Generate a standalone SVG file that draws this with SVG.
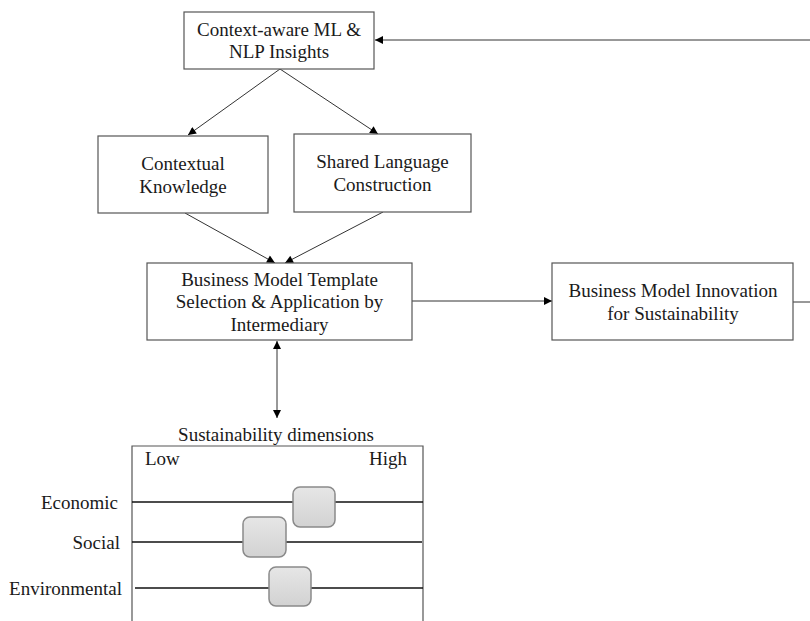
<svg xmlns="http://www.w3.org/2000/svg" width="810" height="621" viewBox="0 0 810 621">
<style>
.box{fill:#fff;stroke:#555;stroke-width:1.2}
.t{font-family:"Liberation Serif","Times New Roman",serif;font-size:19px;fill:#1a1a1a;text-anchor:middle}
.con{stroke:#333;stroke-width:1;fill:none}
.bar{stroke:#111;stroke-width:1.5}
.knob{fill:url(#kg);stroke:#8a8a8a;stroke-width:1.5}
</style>
<defs>
<marker id="ah" viewBox="0 0 10 10" refX="10" refY="5" markerWidth="10" markerHeight="8" markerUnits="userSpaceOnUse" orient="auto-start-reverse">
<path d="M0,0 L10,5 L0,10 z" fill="#000"/>
</marker>
<linearGradient id="kg" x1="0" y1="0" x2="0" y2="1">
<stop offset="0" stop-color="#e6e6e6"/>
<stop offset="1" stop-color="#d2d2d2"/>
</linearGradient>
</defs>
<g id="connectors">
<line class="con" x1="810" y1="40" x2="375" y2="40" marker-end="url(#ah)"/>
<line class="con" x1="280" y1="69" x2="188" y2="135" marker-end="url(#ah)"/>
<line class="con" x1="280" y1="69" x2="378" y2="134" marker-end="url(#ah)"/>
<line class="con" x1="185" y1="213" x2="275" y2="263" marker-end="url(#ah)"/>
<line class="con" x1="383" y1="212" x2="285" y2="263" marker-end="url(#ah)"/>
<line class="con" x1="412" y1="301" x2="552" y2="301" marker-end="url(#ah)"/>
<line class="con" x1="277" y1="341" x2="277" y2="418" marker-start="url(#ah)" marker-end="url(#ah)"/>
<line class="con" x1="793" y1="302" x2="810" y2="302"/>
</g>
<g id="insights">
<rect class="box" x="184" y="12" width="190" height="57"/>
<text class="t" x="279" y="36">Context-aware ML &amp;</text>
<text class="t" x="279" y="58">NLP Insights</text>
</g>
<g id="contextual">
<rect class="box" x="98" y="136" width="170" height="77"/>
<text class="t" x="183" y="170">Contextual</text>
<text class="t" x="183" y="193">Knowledge</text>
</g>
<g id="shared">
<rect class="box" x="294" y="134" width="177" height="78"/>
<text class="t" x="382.5" y="168">Shared Language</text>
<text class="t" x="382.5" y="191">Construction</text>
</g>
<g id="template">
<rect class="box" x="147" y="263" width="265" height="77"/>
<text class="t" x="279.5" y="286">Business Model Template</text>
<text class="t" x="279.5" y="308">Selection &amp; Application by</text>
<text class="t" x="279.5" y="331">Intermediary</text>
</g>
<g id="innovation">
<rect class="box" x="552" y="263" width="241" height="77"/>
<text class="t" x="673" y="297">Business Model Innovation</text>
<text class="t" x="673" y="320">for Sustainability</text>
</g>
<g id="dimensions">
<text class="t" x="276" y="441">Sustainability dimensions</text>
<path class="box" d="M132,621 V446 H423 V621" style="fill:none"/>
<text class="t" x="145" y="465" style="text-anchor:start">Low</text>
<text class="t" x="407" y="465" style="text-anchor:end">High</text>
<text class="t" x="118" y="509" style="text-anchor:end">Economic</text>
<text class="t" x="120" y="549" style="text-anchor:end">Social</text>
<text class="t" x="122" y="595" style="text-anchor:end">Environmental</text>
<line class="bar" x1="132" y1="502" x2="423" y2="502"/>
<line class="bar" x1="132" y1="542" x2="422" y2="542"/>
<line class="bar" x1="135" y1="588" x2="423" y2="588"/>
<rect class="knob" x="293" y="487" width="42" height="40" rx="7"/>
<rect class="knob" x="243" y="517" width="43" height="40" rx="7"/>
<rect class="knob" x="269" y="567" width="42" height="39" rx="7"/>
</g>
</svg>
